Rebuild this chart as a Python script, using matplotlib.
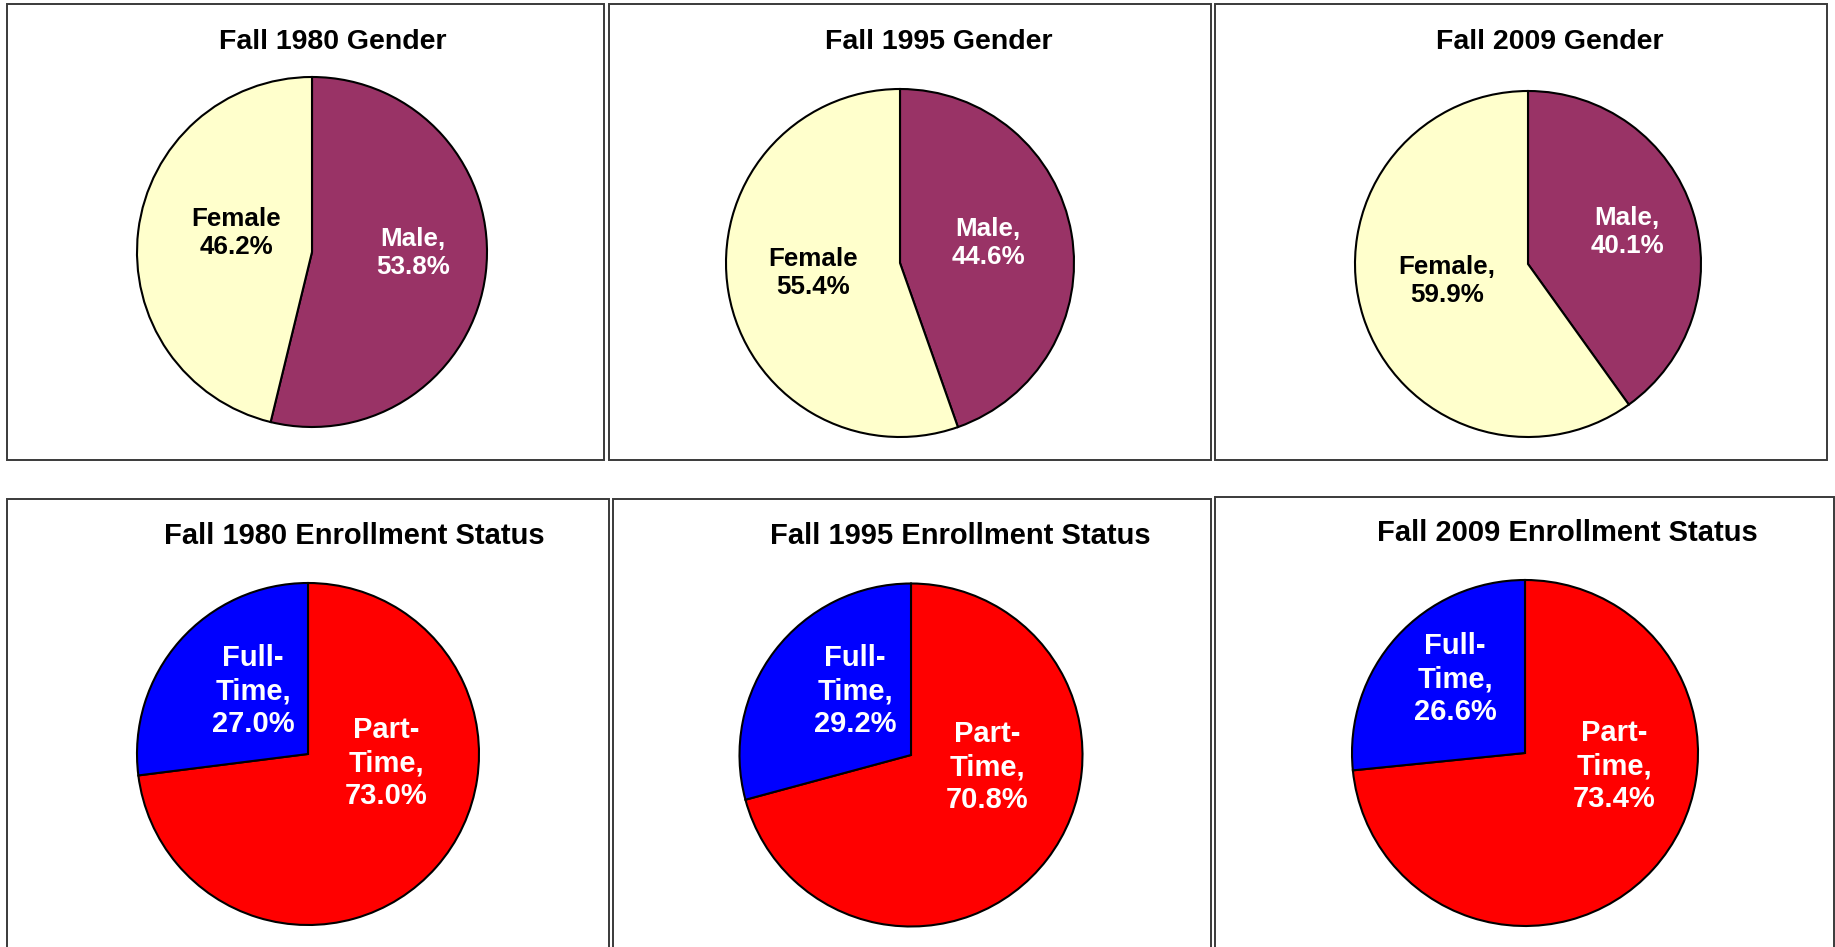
import matplotlib
matplotlib.use('Agg')
import matplotlib.pyplot as plt
from matplotlib.patches import Rectangle

plt.rcParams['font.family'] = ['Liberation Sans', 'DejaVu Sans']

# 資料
years = ['1980', '1995', '2009']
male_pct = [53.8, 44.6, 40.1]
female_pct = [46.2, 55.4, 59.9]
full_pct = [27.0, 29.2, 26.6]
part_pct = [73.0, 70.8, 73.4]
female_names = ['Female', 'Female', 'Female,']

W, H = 1835, 947
fig = plt.figure(figsize=(W / 100, H / 100), dpi=100)
ax = fig.add_axes([0, 0, 1, 1])
ax.set_xlim(0, W)
ax.set_ylim(0, H)
ax.set_aspect('equal')
ax.axis('off')

def Y(y):  # 影像座標 -> 圖座標
    return H - y

# 外框 (x0, y0, x1, y1) 影像座標
top_boxes = [(7, 4, 604, 460), (609, 4, 1211, 460), (1215, 4, 1827, 460)]
bot_boxes = [(7, 499, 609, 960), (613, 499, 1211, 960), (1215, 497, 1834, 960)]
for x0, y0, x1, y1 in top_boxes + bot_boxes:
    ax.add_patch(Rectangle((x0, Y(y1)), x1 - x0, y1 - y0, fill=False,
                           edgecolor='#3a3a3a', lw=1.4))

# 圓餅位置
top_pies = [((312, 252), 175), ((900, 263), 174), ((1528, 264), 173)]
bot_pies = [((308, 754), 171), ((911, 755), 171.5), ((1525, 753), 173)]
top_titles = [(333, 42), (939, 42), (1550, 42)]
bot_titles = [(354, 536), (960, 536), (1567, 533)]
# 標籤位移 (dx, dy 向上)
top_lab = [[(101, -1), (-76, 19)], [(88, 20), (-87, -10)], [(99, 32), (-81, -17)]]
bot_lab = [[(78, -9), (-55, 63)], [(76, -12), (-56, 64)], [(89, -13), (-70, 74)]]

edge = dict(edgecolor='black', linewidth=1.5)
LS = 1.24

for i, yr in enumerate(years):
    # Gender
    (cx, cy), r = top_pies[i]
    ax.pie([male_pct[i], female_pct[i]], colors=['#993366', '#FFFFCC'],
           startangle=90, counterclock=False, center=(cx, Y(cy)), radius=r,
           wedgeprops=edge, frame=True)
    tx, ty = top_titles[i]
    ax.text(tx, Y(ty), 'Fall %s Gender' % yr, ha='center', va='center',
            fontsize=20.5, fontweight='bold')
    (mdx, mdy), (fdx, fdy) = top_lab[i]
    ax.text(cx + mdx, Y(cy) + mdy, 'Male,\n%.1f%%' % male_pct[i], ha='center',
            va='center', color='white', fontsize=18.7, fontweight='bold',
            linespacing=LS)
    ax.text(cx + fdx, Y(cy) + fdy, '%s\n%.1f%%' % (female_names[i], female_pct[i]),
            ha='center', va='center', color='black', fontsize=18.7,
            fontweight='bold', linespacing=LS)

    # Enrollment status
    (cx, cy), r = bot_pies[i]
    ax.pie([part_pct[i], full_pct[i]], colors=['#FF0000', '#0000FF'],
           startangle=90, counterclock=False, center=(cx, Y(cy)), radius=r,
           wedgeprops=edge, frame=True)
    tx, ty = bot_titles[i]
    ax.text(tx, Y(ty), 'Fall %s Enrollment Status' % yr, ha='center',
            va='center', fontsize=21, fontweight='bold')
    (pdx, pdy), (fdx, fdy) = bot_lab[i]
    ax.text(cx + pdx, Y(cy) + pdy, 'Part-\nTime,\n%.1f%%' % part_pct[i],
            ha='center', va='center', color='white', fontsize=21,
            fontweight='bold', linespacing=LS)
    ax.text(cx + fdx, Y(cy) + fdy, 'Full-\nTime,\n%.1f%%' % full_pct[i],
            ha='center', va='center', color='white', fontsize=21,
            fontweight='bold', linespacing=LS)

ax.set_xlim(0, W)
ax.set_ylim(0, H)
ax.axis('off')
fig.savefig('out.png', dpi=100)
